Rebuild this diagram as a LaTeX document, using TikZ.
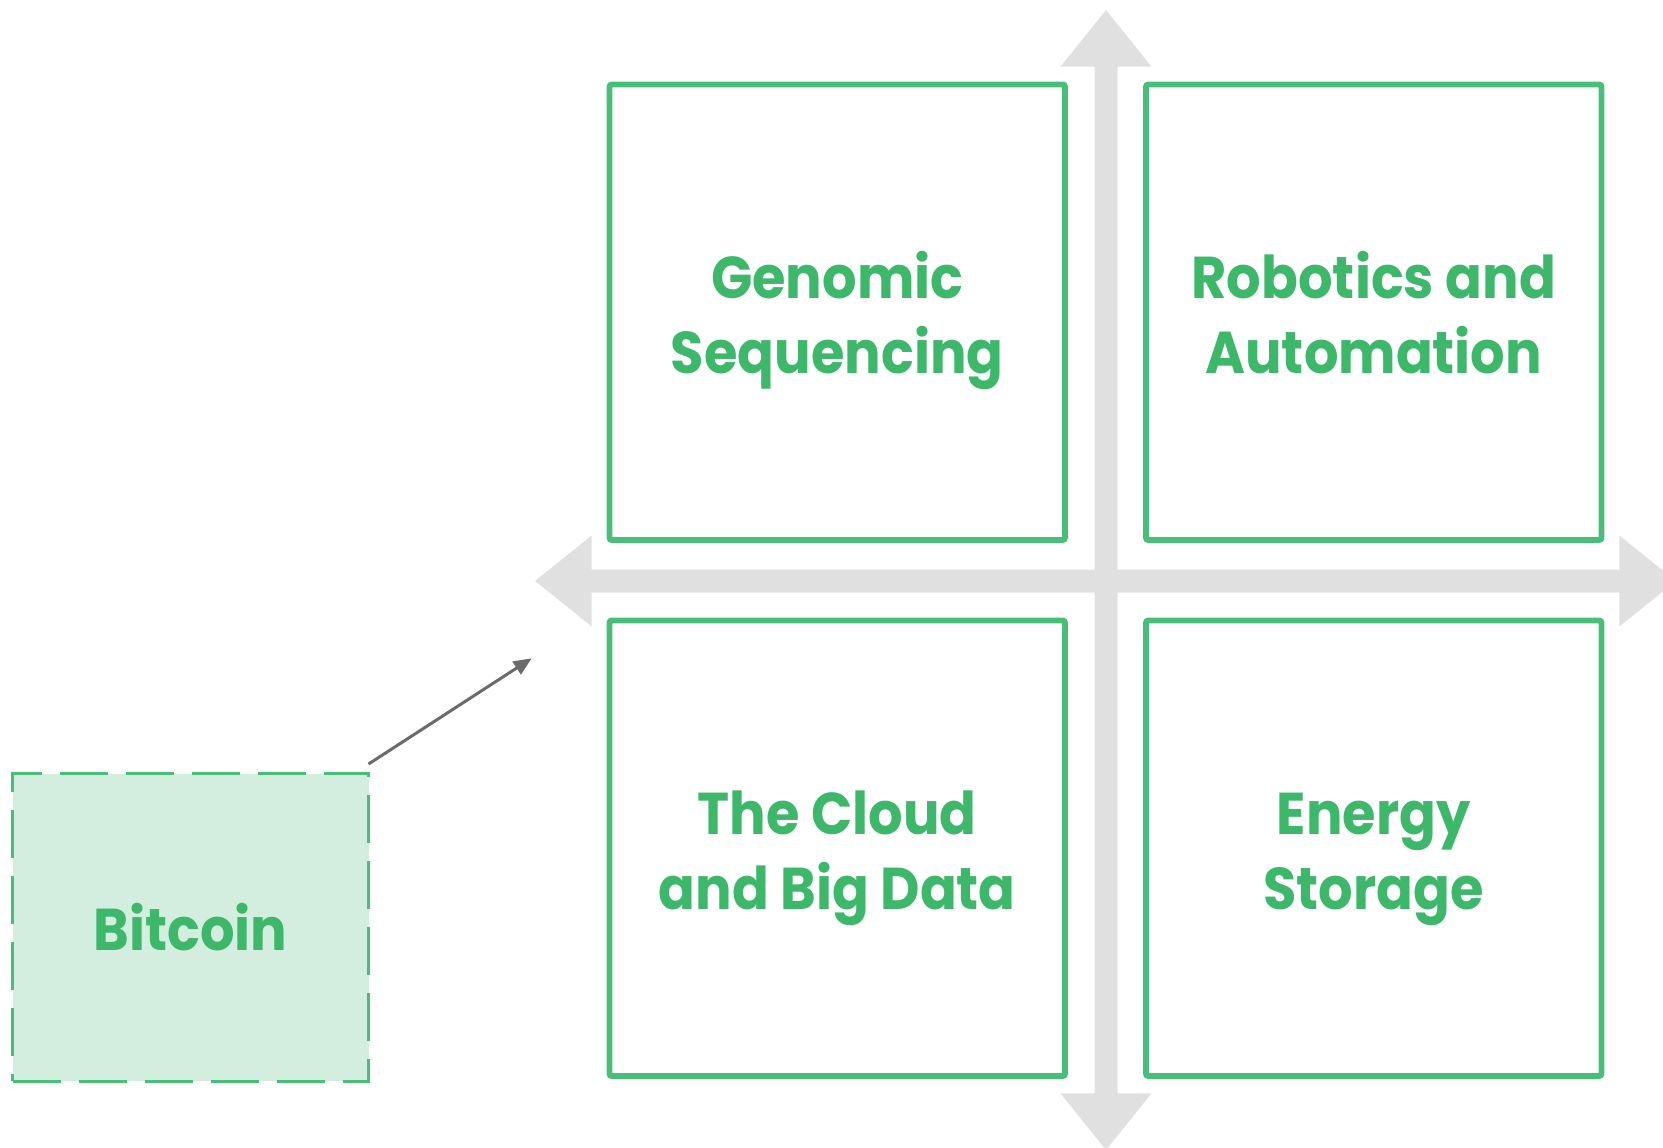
\documentclass[tikz,border=0pt]{standalone}
\usepackage{fontspec}
\setmainfont{Poppins}[FakeStretch=0.92]
\usetikzlibrary{arrows.meta}

\definecolor{quadgreen}{HTML}{48BF78}
\definecolor{textgreen}{HTML}{3DB86B}
\definecolor{coinfill}{HTML}{D3EEDF}
\definecolor{axisgray}{HTML}{E0E0E0}
\definecolor{pointergray}{HTML}{6B6B6B}
% fixed height / depth so every two-line label sits alike
\newcommand\linelift{\rule{0pt}{68.5pt}}
\newcommand\linedrop{\rule[-22pt]{0pt}{22pt}}

\begin{document}
\begin{tikzpicture}[x=1pt, y=-1pt,
  every node/.style = {align=center, text=textgreen,
    font=\fontsize{59}{75}\selectfont\bfseries},
  quadbox/.style = {shape=rectangle, rounded corners=2pt, draw=quadgreen,
    line width=5.6pt, minimum width=455.5pt, minimum height=455.5pt},
  coinbox/.style = {shape=rectangle, draw=quadgreen, fill=coinfill,
    line width=3pt, dash pattern=on 48pt off 18pt,
    minimum width=356pt, minimum height=307.5pt}]
  \useasboundingbox (0,0) rectangle (1663,1148);
  % axes
  \fill[axisgray] (535,581) -- (591.7,535.5) -- (591.7,569.5) -- (1619.3,569.5)
    -- (1619.3,535.5) -- (1676,581) -- (1619.3,626.5) -- (1619.3,592.5)
    -- (591.7,592.5) -- (591.7,626.5) -- cycle;
  \fill[axisgray] (1106,10) -- (1151.5,66.7) -- (1117.5,66.7) -- (1117.5,1093.3)
    -- (1151.5,1093.3) -- (1106,1150) -- (1060.5,1093.3) -- (1094.5,1093.3)
    -- (1094.5,66.7) -- (1060.5,66.7) -- cycle;
  % quadrants
  \node[quadbox] (genomic) at (837.25,312.25) {\linelift Genomic\\Sequencing\linedrop};
  \node[quadbox] (robotics) at (1373.75,312.25) {\linelift Robotics and\\Automation\linedrop};
  \node[quadbox] (cloud) at (837.25,848.25) {\linelift The Cloud\\and Big Data\linedrop};
  \node[quadbox] (energy) at (1373.75,848.25) {\linelift Energy\\Storage\linedrop};
  % outside
  \node[coinbox] (bitcoin) at (190.5,927.3) {Bitcoin};
  \coordinate (aim) at (531.7,658.3);
  \draw[pointergray, line width=3pt, -{Triangle[length=18pt,width=15pt]}]
    ([shift={(-1.5,-8)}]bitcoin.north east) -- (aim);
\end{tikzpicture}
\end{document}
